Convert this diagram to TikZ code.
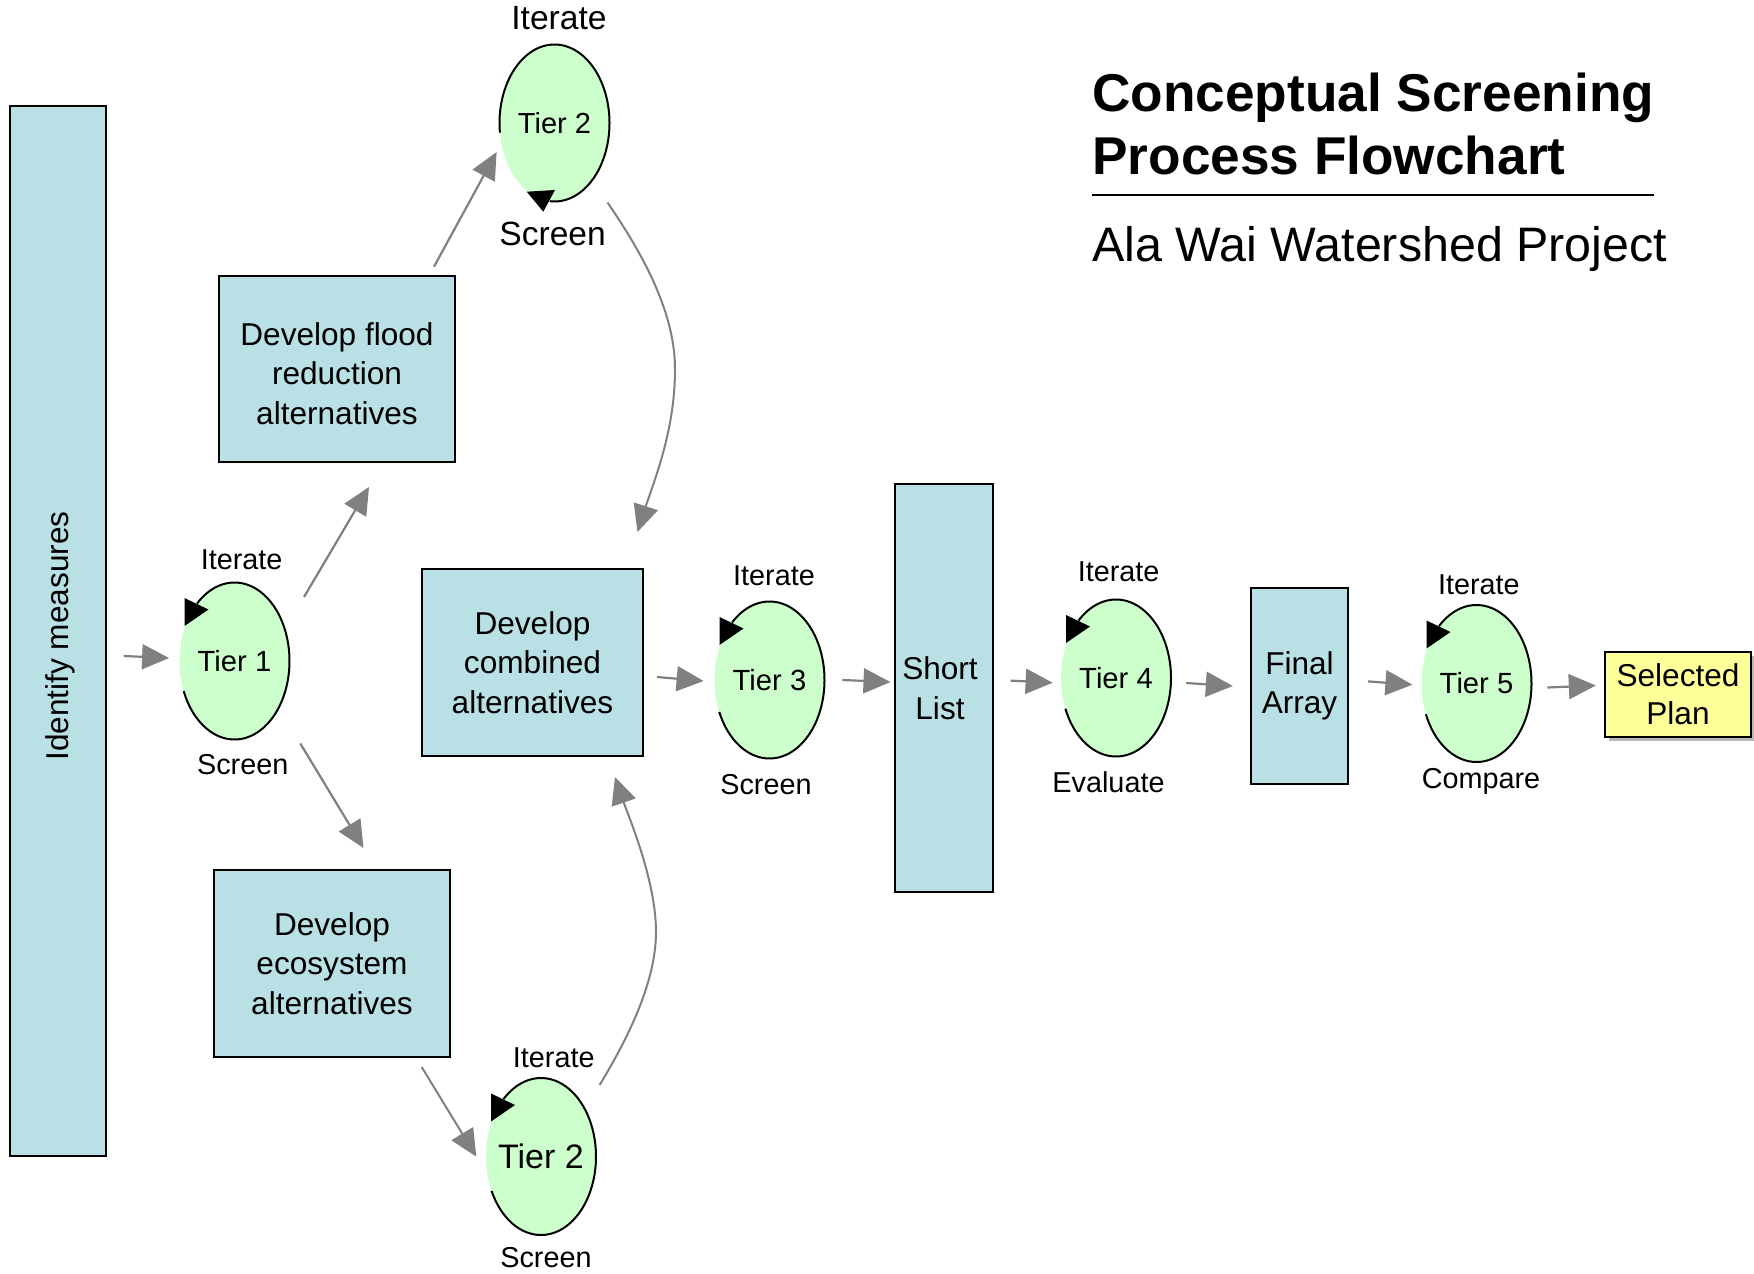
\documentclass[tikz,border=0pt]{standalone}
\usepackage{fontspec}
\setmainfont{Liberation Sans}
\usetikzlibrary{shapes.geometric,arrows.meta,calc}
\definecolor{boxblue}{RGB}{185,224,228}
\definecolor{tiergreen}{RGB}{204,255,204}
\definecolor{planyellow}{RGB}{255,255,153}
\definecolor{arrowgray}{RGB}{128,128,128}
\newcommand{\tierarc}[3]{\draw[tierline, shift={(#1.center)}] plot[domain=#2:#3, samples=90] ({55*cos(\x)},{78.5*sin(\x)});}
\newcommand{\tiertip}[1]{\fill[shift={(#1.center)}] (-50,-63) -- (-26,-51.5) -- (-50,-35) -- cycle;}
\begin{document}
\begin{tikzpicture}[x=0.5pt,y=-0.5pt,
  stagebox/.style={draw=black, line width=1pt, fill=boxblue, rectangle, inner sep=0pt, align=center, font=\fontsize{15.8}{19.7}\selectfont},
  tier/.style={ellipse, fill=tiergreen, inner sep=-8pt, minimum width=55pt, minimum height=78.5pt, font=\fontsize{14.6}{17}\selectfont},
  tierline/.style={draw=black, line width=1pt},
  lbl/.style={font=\fontsize{14.4}{17}\selectfont, inner sep=0pt},
  biglbl/.style={font=\fontsize{16.8}{19}\selectfont, inner sep=0pt},
  garrow/.style={draw=arrowgray, line width=1.1pt, -{Triangle[length=13.5pt,width=12.5pt]}},
]
\useasboundingbox (0,0) rectangle (1754,1273);

% boxes
\node[stagebox, minimum width=48pt, minimum height=525pt] (Ident) at (58,631) {};
\node[rotate=90, inner sep=0pt, font=\fontsize{15.8}{19.7}\selectfont] (IdentText) at (60.4,636) {Identify measures};
\node[stagebox, minimum width=118pt, minimum height=93pt] (Flood) at (337,369) {\rule{0pt}{16pt}Develop flood\\reduction\\alternatives};
\node[stagebox, minimum width=110.5pt, minimum height=93.5pt] (Comb) at (532.5,662.5) {Develop\\combined\\alternatives};
\node[stagebox, minimum width=118pt, minimum height=93.5pt] (Eco) at (332,963.5) {Develop\\ecosystem\\alternatives};
\node[stagebox, minimum width=49pt, minimum height=204pt] (Short) at (944,688) {\hspace*{-4pt}\parbox{40pt}{\centering Short\\List}};
\node[stagebox, minimum width=48.5pt, minimum height=98pt] (Final) at (1299.5,686) {Final\\Array};
\fill[gray!55] (1609,656) rectangle (1754,741);
\node[stagebox, fill=planyellow, minimum width=73pt, minimum height=42.5pt, font=\fontsize{15.8}{19}\selectfont] (Plan) at (1678,694.5) {Selected\\Plan};

% tiers
\node[tier] (T1) at (234.5,661) {Tier 1};
\node[tier, font=\fontsize{14.5}{17}\selectfont] (T2a) at (554.5,123) {Tier 2};
\node[tier, font=\fontsize{17}{20}\selectfont] (T2b) at (541,1156.5) {Tier 2};
\node[tier] (T3) at (769.5,680) {Tier 3};
\node[tier] (T4) at (1116,678) {Tier 4};
\node[tier] (T5) at (1476.5,683.5) {Tier 5};

\tierarc{T1}{-133}{157.5}
\tierarc{T2b}{-133}{154}
\tierarc{T3}{-133}{156}
\tierarc{T4}{-133}{157}
\tierarc{T5}{-133}{157}
\tierarc{T2a}{173}{455}
\tiertip{T1}
\tiertip{T2b}
\tiertip{T3}
\tiertip{T4}
\tiertip{T5}
\fill[shift={(T2a.center)}] (-27.8,68.7) -- (0.5,67) -- (-11.2,88.7) -- cycle;

% labels
\node[lbl] (T1it) at (241.6,560) {Iterate};
\node[lbl] (T1sc) at (242.7,765) {Screen};
\node[biglbl] (T2ait) at (559,18) {Iterate};
\node[biglbl] (T2asc) at (552.6,234) {Screen};
\node[lbl] (T2bit) at (553.7,1058) {Iterate};
\node[lbl] (T2bsc) at (546,1258) {Screen};
\node[lbl] (T3it) at (774,576) {Iterate};
\node[lbl] (T3sc) at (766,785) {Screen};
\node[lbl] (T4it) at (1118.6,572) {Iterate};
\node[lbl] (T4ev) at (1108.5,782) {Evaluate};
\node[lbl] (T5it) at (1478.8,585) {Iterate};
\node[lbl] (T5cm) at (1481,781) {Compare};

% title
\node[anchor=base west, inner sep=0pt, font=\bfseries\fontsize{26.6}{32}\selectfont] (Title1) at (1092,111.5) {Conceptual Screening};
\node[anchor=base west, inner sep=0pt, font=\bfseries\fontsize{26.6}{32}\selectfont] (Title2) at (1092,175) {Process Flowchart};
\draw[line width=1pt] (1092,195.5) -- (1654,195.5);
\node[anchor=base west, inner sep=0pt, font=\fontsize{24.2}{28}\selectfont] (Sub) at (1092,261.7) {Ala Wai Watershed Project};

% connectors
\draw[garrow] ($(Ident.east)+(16.7,25)$) -- ($(T1.west)+(-10,-3)$);
\draw[garrow] ($(T1.center)+(69.5,-64)$) -- ($(Flood.south)+(32,24)$);
\draw[garrow] ($(T1.center)+(65.8,82.5)$) -- ($(Eco.north)+(31.5,-21)$);
\draw[garrow] ($(Flood.north)+(97,-8.3)$) -- ($(T2a.center)+(-57.9,29)$);
\draw[garrow, line width=1pt] ($(T2a.center)+(53,79.5)$) .. controls (640,250) and (675,310) .. (675,369) .. controls (675,430) and (655,478) .. ($(Comb.north)+(105,-36)$);
\draw[garrow, line width=1pt] ($(Eco.south)+(89.7,9)$) -- ($(T2b.west)+(-9.3,0.2)$);
\draw[garrow, line width=1pt] ($(T2b.center)+(58.6,-71.5)$) .. controls (630,1035) and (656,980) .. (656,932) .. controls (656,880) and (628,815) .. ($(Comb.south)+(82.5,20)$);
\draw[garrow] ($(Comb.east)+(13,14.5)$) -- ($(T3.west)+(-10.5,1)$);
\draw[garrow] ($(T3.east)+(17.5,0)$) -- ($(Short.west)+(-3.5,-6)$);
\draw[garrow] ($(Short.east)+(16.5,-7.4)$) -- ($(T4.west)+(-8,4.7)$);
\draw[garrow] ($(T4.east)+(14.7,5)$) -- ($(Final.west)+(-17.2,0)$);
\draw[garrow] ($(Final.east)+(19,-4.6)$) -- ($(T5.west)+(-8.7,1.2)$);
\draw[garrow] ($(T5.east)+(15.5,4)$) -- ($(Plan.west)+(-8.2,-9)$);
\end{tikzpicture}
\end{document}
